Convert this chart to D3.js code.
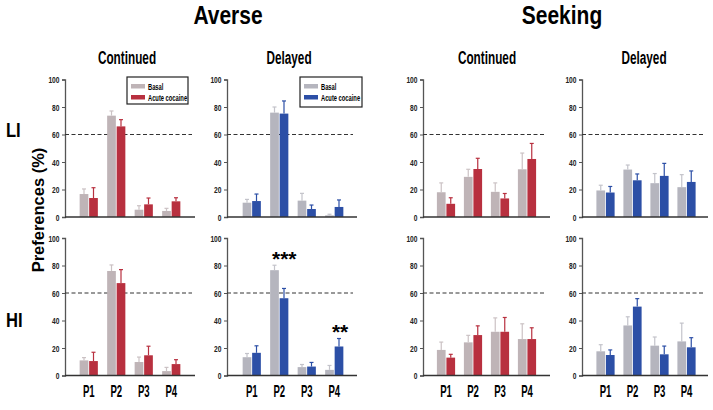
<!DOCTYPE html>
<html><head><meta charset="utf-8">
<script src="https://cdn.jsdelivr.net/npm/d3@7"></script>
<style>
body{margin:0;background:#fff;}
svg{display:block;}
</style></head>
<body>
<svg id="c" width="713" height="410"></svg>
<script>
const categories = ["P1","P2","P3","P4"];
const yTicks = [0,20,40,60,80,100];
const seriesNames = ["Basal","Acute cocaine"];
const groups = ["Averse","Seeking"];
const conditions = ["Continued","Delayed"];
const rows = ["LI","HI"];

// values (mean) and error (SEM) per panel
const averseContLI_basal = [16.7, 73.7, 5.3, 4.4];
const averseContLI_basalErr = [3.7, 3.4, 2.9, 1.9];
const averseContLI_acute = [13.8, 65.9, 9.2, 11.4];
const averseContLI_acuteErr = [7.5, 4.9, 4.6, 2.6];

const averseDelLI_basal = [10.4, 75.9, 11.9, 1.2];
const averseDelLI_basalErr = [2.4, 4.1, 5.3, 0.8];
const averseDelLI_acute = [11.6, 75.2, 5.8, 7.3];
const averseDelLI_acuteErr = [5.1, 9.2, 2.9, 5.1];

const seekContLI_basal = [18.0, 29.2, 18.3, 34.7];
const seekContLI_basalErr = [6.8, 5.5, 6.5, 11.8];
const seekContLI_acute = [9.6, 34.9, 13.5, 42.2];
const seekContLI_acuteErr = [4.4, 7.8, 3.6, 11.3];

const seekDelLI_basal = [19.3, 34.5, 24.6, 21.7];
const seekDelLI_basalErr = [3.8, 3.3, 7.0, 9.1];
const seekDelLI_acute = [17.8, 26.7, 29.9, 25.5];
const seekDelLI_acuteErr = [4.4, 4.6, 9.1, 8.0];

const averseContHI_basal = [11.0, 76.0, 9.8, 3.2];
const averseContHI_basalErr = [2.0, 4.4, 3.6, 2.7];
const averseContHI_acute = [10.5, 67.2, 14.7, 8.3];
const averseContHI_acuteErr = [6.4, 9.8, 6.6, 3.2];

const averseDelHI_basal = [13.3, 76.6, 6.1, 4.1];
const averseDelHI_basalErr = [2.7, 3.6, 1.9, 3.2];
const averseDelHI_acute = [16.5, 56.2, 6.5, 21.1];
const averseDelHI_acuteErr = [5.1, 7.1, 3.0, 5.8];

const seekContHI_basal = [18.6, 24.1, 31.8, 26.5];
const seekContHI_basalErr = [5.7, 5.1, 10.1, 11.1];
const seekContHI_acute = [13.0, 29.4, 31.8, 26.5];
const seekContHI_acuteErr = [2.4, 6.7, 10.4, 8.2];

const seekDelHI_basal = [17.6, 36.4, 21.7, 24.8];
const seekDelHI_basalErr = [4.8, 6.3, 6.3, 13.3];
const seekDelHI_acute = [14.9, 50.1, 15.4, 20.5];
const seekDelHI_acuteErr = [3.7, 5.8, 6.0, 7.0];

const threshold = 60;
const significance = [ {panel:"averseDelHI", cat:"P2", series:0, label:"***"},
                       {panel:"averseDelHI", cat:"P4", series:1, label:"**"} ];

// ---- layout ----
const svg = d3.select("#c");
const SANS = '"Liberation Sans",Arial,sans-serif';

// condensed text helper (horizontal squeeze like the reference)
function ntext(parent, x, y, txt, fs, sx, anchor, weight){
  return parent.append("text")
    .attr("transform",`translate(${x},${y}) scale(${sx},1)`)
    .attr("text-anchor",anchor||"middle")
    .style("font-family",SANS).style("font-weight",weight||"bold")
    .style("font-size",fs+"px").text(txt);
}

const colGeom = [
  {ax:65,  r0:75,    r1:185,   xEnd:195, dashEnd:192, acute:"#b8303f", basal:"#bfb4b7", errBasal:"#cbc2c4"},
  {ax:227, r0:238,   r1:348,   xEnd:357, dashEnd:353, acute:"#2c4fa6", basal:"#b5b5be", errBasal:"#c3c3ca"},
  {ax:423, r0:432.5, r1:540.5, xEnd:550, dashEnd:545, acute:"#b8303f", basal:"#bfb4b7", errBasal:"#cbc2c4"},
  {ax:582, r0:592,   r1:700,   xEnd:708, dashEnd:703, acute:"#2c4fa6", basal:"#b5b5be", errBasal:"#c3c3ca"}
];
const rowGeom = [ {y0:217, y1:79.5}, {y0:375.5, y1:238} ];

const panelData = {
  averseContLI:[averseContLI_basal,averseContLI_basalErr,averseContLI_acute,averseContLI_acuteErr],
  averseDelLI:[averseDelLI_basal,averseDelLI_basalErr,averseDelLI_acute,averseDelLI_acuteErr],
  seekContLI:[seekContLI_basal,seekContLI_basalErr,seekContLI_acute,seekContLI_acuteErr],
  seekDelLI:[seekDelLI_basal,seekDelLI_basalErr,seekDelLI_acute,seekDelLI_acuteErr],
  averseContHI:[averseContHI_basal,averseContHI_basalErr,averseContHI_acute,averseContHI_acuteErr],
  averseDelHI:[averseDelHI_basal,averseDelHI_basalErr,averseDelHI_acute,averseDelHI_acuteErr],
  seekContHI:[seekContHI_basal,seekContHI_basalErr,seekContHI_acute,seekContHI_acuteErr],
  seekDelHI:[seekDelHI_basal,seekDelHI_basalErr,seekDelHI_acute,seekDelHI_acuteErr]
};
const panelKeys = [["averseContLI","averseDelLI","seekContLI","seekDelLI"],
                   ["averseContHI","averseDelHI","seekContHI","seekDelHI"]];

// titles
ntext(svg, 228, 24, groups[0], 25, 0.84);
ntext(svg, 562, 24, groups[1], 25, 0.84);
const condX = [127, 289, 487, 644];
condX.forEach((cx,i)=>{ ntext(svg, cx, 64, conditions[i%2], 19, 0.62); });
// row labels
ntext(svg, 6, 137, rows[0], 19.5, 0.85, "start");
ntext(svg, 6, 327, rows[1], 19.5, 0.85, "start");
svg.append("text").attr("transform","translate(44,210) rotate(-90)").attr("text-anchor","middle")
  .style("font-family",SANS).style("font-weight","bold").style("font-size","16.5px").text("Preferences (%)");

rowGeom.forEach((rg,ri)=>{
  const y = d3.scaleLinear().domain([0,100]).range([rg.y0, rg.y1]);
  colGeom.forEach((cg,ci)=>{
    const key = panelKeys[ri][ci];
    const [bv,be,av,ae] = panelData[key];
    const x = d3.scaleBand().domain(categories).range([cg.r0, cg.r1]);
    const g = svg.append("g");
    // y axis
    const yAxis = d3.axisLeft(y).tickValues(yTicks).tickSize(3).tickPadding(3);
    const ya = g.append("g").attr("transform",`translate(${cg.ax},0)`).call(yAxis);
    ya.select(".domain").attr("stroke","#555").attr("stroke-width",1.3);
    ya.selectAll(".tick line").attr("stroke","#555");
    ya.selectAll(".tick text")
      .attr("x",null).attr("dy",null)
      .attr("transform","translate(-5.5,3.3) scale(0.7,1)")
      .style("font-family",SANS).style("font-weight","bold")
      .style("font-size","9.5px").attr("fill","#222");
    // dashed threshold
    g.append("line").attr("x1",cg.ax).attr("x2",cg.dashEnd)
      .attr("y1",y(threshold)).attr("y2",y(threshold))
      .attr("stroke","#333").attr("stroke-width",1).attr("stroke-dasharray","4,2.5");
    const bw = 8.7;
    const series = [
      {v:bv,e:be,fill:cg.basal,err:cg.errBasal,off:-bw-0.4},
      {v:av,e:ae,fill:cg.acute,err:cg.acute,off:0.4}
    ];
    series.forEach(s=>{
      categories.forEach((c,i)=>{
        const cx = x(c)+x.bandwidth()/2;
        const bx = cx + s.off;
        g.append("rect").attr("x",bx).attr("width",bw)
          .attr("y",y(s.v[i])).attr("height",y(0)-y(s.v[i])).attr("fill",s.fill);
        const mx = bx+bw/2;
        g.append("line").attr("x1",mx).attr("x2",mx).attr("y1",y(s.v[i])).attr("y2",y(s.v[i]+s.e[i]))
          .attr("stroke",s.err).attr("stroke-width",1.2);
        g.append("line").attr("x1",mx-2).attr("x2",mx+2).attr("y1",y(s.v[i]+s.e[i])).attr("y2",y(s.v[i]+s.e[i]))
          .attr("stroke",s.err).attr("stroke-width",1.2);
      });
    });
    // x axis line
    g.append("line").attr("x1",cg.ax).attr("x2",cg.xEnd).attr("y1",y(0)).attr("y2",y(0))
      .attr("stroke","#333").attr("stroke-width",1.5);
    if(ri===1){
      categories.forEach(c=>{
        ntext(g, x(c)+x.bandwidth()/2, 397, c, 16.5, 0.58);
      });
    }
    significance.filter(s=>s.panel===key).forEach(s=>{
      const i = categories.indexOf(s.cat);
      const arr = s.series===0?[bv,be]:[av,ae];
      const cx = x(s.cat)+x.bandwidth()/2 + (s.series===0 ? 5 : bw/2+1.5);
      svg.append("text").attr("x",cx)
        .attr("y",y(arr[0][i]+arr[1][i])+0.5).attr("text-anchor","middle")
        .style("font-family",SANS).style("font-weight","bold").style("font-size","21px").text(s.label);
    });
  });
});

// legends
function legend(x0,y0,w,h,cg){
  const g = svg.append("g");
  g.append("rect").attr("x",x0).attr("y",y0).attr("width",w).attr("height",h)
    .attr("fill","#fff").attr("stroke","#222").attr("stroke-width",1.2);
  [cg.basal,cg.acute].forEach((col,i)=>{
    g.append("rect").attr("x",x0+4).attr("y",y0+7+i*11).attr("width",14).attr("height",4.5).attr("fill",col);
    ntext(g, x0+21, y0+12.5+i*11, seriesNames[i], 8.5, 0.68, "start");
  });
}
legend(127,77,61,27,colGeom[0]);
legend(300,77,62,30,colGeom[1]);
</script>
</body></html>
